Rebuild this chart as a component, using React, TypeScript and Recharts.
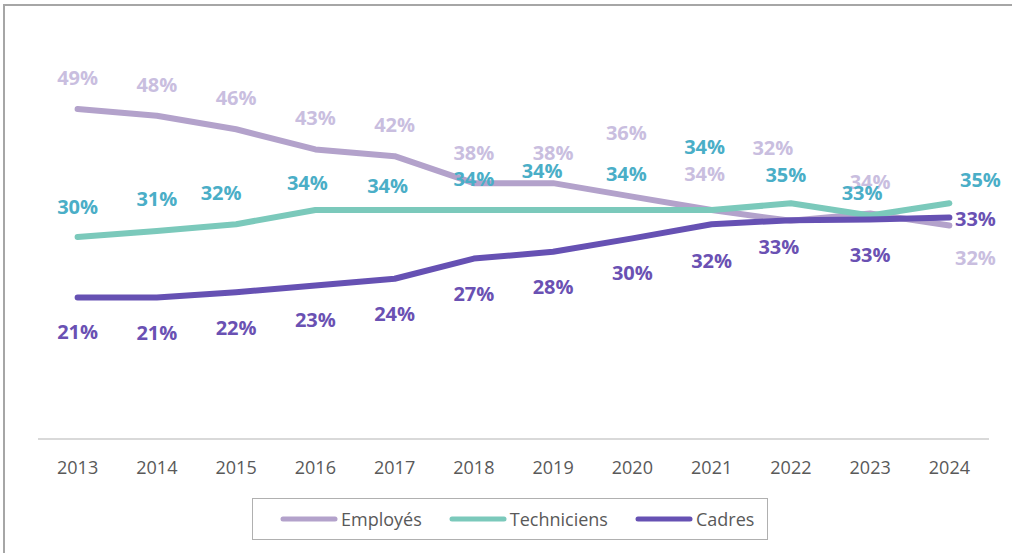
import React from 'react';
import { LineChart, Line, XAxis, YAxis, Legend } from 'recharts';

const years = ['2013', '2014', '2015', '2016', '2017', '2018', '2019', '2020', '2021', '2022', '2023', '2024'];
const employes = [49, 48, 46, 43, 42, 38, 38, 36, 34, 32.4, 33.5, 31.7];
const techniciens = [30, 30.9, 31.9, 34, 34, 34, 34, 34, 34, 35, 33.2, 35];
const cadres = [21, 21, 21.8, 22.8, 23.8, 26.8, 27.8, 29.8, 31.9, 32.5, 32.6, 32.9];

const data = years.map((year, i) => ({
  year,
  employes: employes[i],
  techniciens: techniciens[i],
  cadres: cadres[i],
}));

// label placement (dx, dy from the point to the label centre), as placed in the original
const labelOffsets: Record<string, [number, number][]> = {
  employes: [
    [0, -32], [0, -31], [0, -32], [0, -32], [0, -32], [0, -31],
    [0, -31], [-6, -64], [-7, -37], [-18, -73], [0, -32], [26, 32],
  ],
  techniciens: [
    [0, -31], [0, -32], [-15, -32], [-8, -28], [-7, -25], [0, -32],
    [-11, -40], [-6, -37], [-7, -64], [-5, -29], [-8, -23], [31, -24],
  ],
  cadres: [
    [0, 34], [0, 35], [0, 35], [0, 34], [0, 35], [0, 35],
    [0, 35], [0, 34], [0, 36], [-12, 26], [0, 35], [26, 1],
  ],
};

const series = [
  { key: 'employes', name: 'Employés', color: '#b3a2cb', labelColor: '#c9bedf' },
  { key: 'techniciens', name: 'Techniciens', color: '#7bc9bb', labelColor: '#4aaec7' },
  { key: 'cadres', name: 'Cadres', color: '#6651b3', labelColor: '#6a51b3' },
];

const makeLabel = (key: string, color: string) => (props: any) => {
  const { x, y, value, index } = props;
  const [dx, dy] = labelOffsets[key][index] || [0, 0];
  return (
    <text
      key={`${key}-${index}`}
      x={x + dx}
      y={y + dy}
      textAnchor="middle"
      dominantBaseline="central"
      fill={color}
      fontFamily="'Open Sans', sans-serif"
      fontWeight={700}
      fontSize={20}
    >
      {`${Math.round(value)}%`}
    </text>
  );
};

const LegendBox = () => (
  <div
    style={{
      width: 516,
      height: 42,
      boxSizing: 'border-box',
      border: '1px solid #b0b0b0',
      display: 'flex',
      alignItems: 'center',
      fontFamily: "'Open Sans', sans-serif",
      fontSize: 18,
      color: '#595959',
      paddingLeft: 27,
    }}
  >
    {series.map((s) => (
      <div key={s.key} style={{ display: 'flex', alignItems: 'center', marginRight: 27 }}>
        <svg width={58} height={10} style={{ marginRight: 3 }}>
          <line x1={3} y1={5} x2={55} y2={5} stroke={s.color} strokeWidth={5} strokeLinecap="round" />
        </svg>
        <span>{s.name}</span>
      </div>
    ))}
  </div>
);

export default function App() {
  return (
    <div style={{ position: 'absolute', left: 0, top: 0, width: 1012, height: 553, background: '#fff', overflow: 'hidden' }}>
      <div
        style={{
          position: 'absolute',
          left: 3,
          top: 4,
          width: 1100,
          height: 700,
          borderLeft: '2px solid #a6a6a6',
          borderTop: '2px solid #a6a6a6',
        }}
      />
      <div style={{ position: 'absolute', left: 0, top: 0 }}>
        <LineChart width={1012} height={553} data={data} margin={{ top: 35, right: 23, bottom: 74, left: 38 }}>
          <XAxis
            dataKey="year"
            padding={{ left: 39.6, right: 39.6 }}
            height={40}
            tickLine={false}
            axisLine={{ stroke: '#d9d9d9', strokeWidth: 2 }}
            tickMargin={16}
            tick={{ fill: '#595959', fontSize: 18, fontFamily: "'Open Sans', sans-serif" }}
            interval={0}
          />
          <YAxis hide domain={[0, 60]} />
          <Legend
            layout="horizontal"
            verticalAlign="middle"
            align="center"
            wrapperStyle={{ left: 252, top: 498, width: 516, height: 42 }}
            content={<LegendBox />}
          />
          {series.map((s) => (
            <Line
              key={s.key}
              type="linear"
              dataKey={s.key}
              name={s.name}
              stroke={s.color}
              strokeWidth={6}
              strokeLinecap="round"
              strokeLinejoin="round"
              dot={false}
              activeDot={false}
              isAnimationActive={false}
              label={makeLabel(s.key, s.labelColor)}
            />
          ))}
        </LineChart>
      </div>
    </div>
  );
}
